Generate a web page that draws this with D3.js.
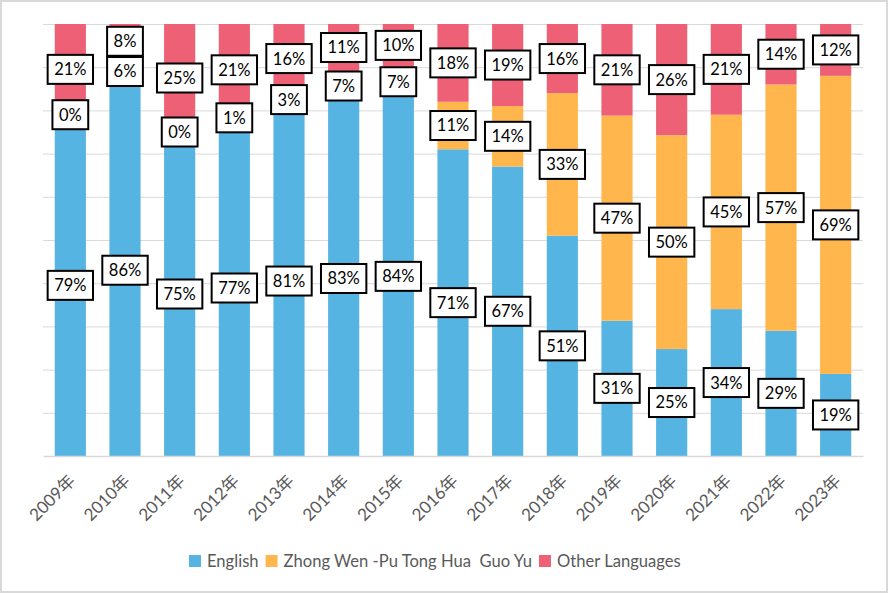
<!DOCTYPE html>
<html><head><meta charset="utf-8">
<script src="https://cdn.jsdelivr.net/npm/d3@7"></script>
<style>
body{margin:0;background:#fff;}
text{font-family:Lato,"Noto Sans CJK SC",sans-serif;}
</style></head>
<body><svg id="c" width="888" height="593"></svg>
<script>
const years = ["2009年","2010年","2011年","2012年","2013年","2014年","2015年","2016年","2017年","2018年","2019年","2020年","2021年","2022年","2023年"];
const seriesNames = ["English","Zhong Wen -Pu Tong Hua  Guo Yu","Other Languages"];
const english = [79,86,75,77,81,83,84,71,67,51,31,25,34,29,19];
const zhongwen = [0,6,0,1,3,7,7,11,14,33,47,50,45,57,69];
const other = [21,8,25,21,16,11,10,18,19,16,21,26,21,14,12];
const colors = ["#56b4e3","#ffb74d","#ee6076"];

(function(){
const svg = d3.select("#c");
const W=888,H=593;
svg.append("rect").attr("x",1).attr("y",1).attr("width",W-2).attr("height",H-2)
  .attr("fill","#fff").attr("stroke","#d9d9d9").attr("stroke-width",2);

const pl=43,pr=863,pt=24,pb=456;
const x = d3.scaleBand().domain(years).range([pl,pr]).paddingInner(0.43).paddingOuter(0.215);
const y = d3.scaleLinear().domain([0,1]).range([pb,pt]);

const table = years.map((yr,i)=>({year:yr,s0:english[i],s1:zhongwen[i],s2:other[i]}));
const keys=["s0","s1","s2"];
const stack = d3.stack().keys(keys).offset(d3.stackOffsetExpand)(table);

const grid = svg.append("g").attr("transform",`translate(${pl},0)`)
  .call(d3.axisLeft(y).tickValues(d3.range(1,11).map(d=>d/10)).tickSize(-(pr-pl)).tickFormat(""));
grid.select(".domain").remove();
grid.selectAll(".tick line").attr("stroke","#d9d9d9").attr("stroke-width",1);

stack.forEach((s,si)=>{
  svg.append("g").selectAll("rect").data(s).join("rect")
    .attr("x",d=>x(d.data.year)).attr("width",x.bandwidth())
    .attr("y",d=>y(d[1])).attr("height",d=>y(d[0])-y(d[1]))
    .attr("fill",colors[si]);
});

const xa = svg.append("g").attr("transform",`translate(0,${pb})`)
  .call(d3.axisBottom(x).tickSize(0).tickFormat(""));
xa.select(".domain").attr("stroke","#d9d9d9").attr("stroke-width",1.5);
svg.append("g").selectAll("text").data(years).join("text")
  .attr("transform",d=>`translate(${x(d)+x.bandwidth()/2+6},${pb+26}) rotate(-45)`)
  .attr("text-anchor","end")
  .attr("font-size",17).attr("fill","#595959").text(d=>d);

const vals=[english,zhongwen,other];
const lg = svg.append("g");
stack.forEach((s,si)=>{
  s.forEach((d,i)=>{
    const cx = x(d.data.year)+x.bandwidth()/2;
    const cy = (y(d[0])+y(d[1]))/2;
    const g = lg.append("g");
    const t = g.append("text").attr("x",cx).attr("y",cy).attr("dy","0.36em")
      .attr("text-anchor","middle").attr("font-size",16.5).attr("fill","#000")
      .text(vals[si][i]+"%");
    const w = t.node().getComputedTextLength();
    g.insert("rect","text").attr("x",cx-w/2-6.5).attr("y",cy-14.5)
      .attr("width",w+13).attr("height",29)
      .attr("fill","#fff").attr("stroke","#000").attr("stroke-width",2);
  });
});

const leg = svg.append("g");
let lx=189; const ly=561;
seriesNames.forEach((n,i)=>{
  leg.append("rect").attr("x",lx).attr("y",ly-6).attr("width",12).attr("height",12).attr("fill",colors[i]);
  const t = leg.append("text").attr("x",lx+18).attr("y",ly).attr("dy","0.36em")
    .attr("font-size",16.6).attr("fill","#595959").style("white-space","pre").text(n);
  lx += 18 + t.node().getComputedTextLength() + 7;
});
})();
</script></body></html>
